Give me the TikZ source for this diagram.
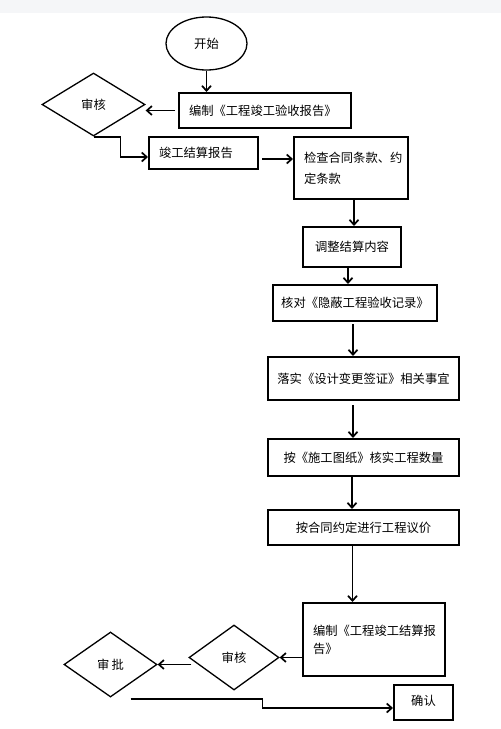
\documentclass[tikz,border=0pt]{standalone}
\usepackage{fontspec}
\setmainfont{Noto Sans CJK SC}
\usetikzlibrary{shapes.geometric,arrows.meta}
\definecolor{bandgray}{RGB}{245,246,248}
\begin{document}
\begin{tikzpicture}[x=1pt,y=-1pt,
  every node/.style={font=\fontsize{12.3}{20}\selectfont},
  box/.style={draw, rectangle, line width=2pt, inner sep=0pt},
  lbox/.style={box, align=left, inner xsep=10pt},
  ell/.style={draw, ellipse, line width=1.3pt, inner sep=0pt, minimum width=81pt, minimum height=53pt},
  dia/.style={draw, diamond, line width=1.3pt, inner sep=0pt},
  arr/.style={-{Straight Barb[length=5pt,width=9pt]}, line width=1.7pt},
  lin/.style={line width=1.7pt}]
\useasboundingbox (0,0) rectangle (501,729);
\fill[bandgray] (0,0) rectangle (501,13);

\node[ell] (start) at (206.5,43.5) {开始\hspace{12pt}};
\node[lbox, minimum height=35pt, text width=152pt] (b1) at (265,110.5) {编制《工程竣工验收报告》};
\node[dia, minimum width=103pt, minimum height=63pt] (d1) at (93.5,104.5) {审核\hspace{6pt}};
\node[lbox, minimum height=32pt, text width=89pt] (b2) at (203.5,153) {竣工结算报告};
\node[lbox, minimum height=62pt, text width=94pt, font=\fontsize{12.3}{21}\selectfont] (b3) at (351,168) {检查合同条款、约\\定条款};
\node[box, minimum width=98pt, minimum height=40pt] (b4) at (352,247) {调整结算内容};
\node[box, minimum width=164pt, minimum height=36pt] (b5) at (355,303) {核对《隐蔽工程验收记录》};
\node[box, minimum width=191pt, minimum height=43pt] (b6) at (363.5,378.5) {落实《设计变更签证》相关事宜};
\node[box, minimum width=191pt, minimum height=37pt] (b7) at (363.5,457.5) {按《施工图纸》核实工程数量};
\node[box, minimum width=191pt, minimum height=35pt] (b8) at (363.5,527.5) {按合同约定进行工程议价};
\node[lbox, minimum height=73pt, text width=122pt, font=\fontsize{12.3}{18}\selectfont] (b9) at (374,639.5) {编制《工程竣工结算报\\告》};
\node[dia, minimum width=90pt, minimum height=65pt] (d2) at (234,657.5) {审核};
\node[dia, minimum width=93pt, minimum height=65pt] (d3) at (110.5,664.5) {审\,批};
\node[box, minimum width=59pt, minimum height=35pt] (b10) at (423.5,702.5) {\raisebox{4pt}{确认}};

\draw[arr] (start.south) -- (start.south |- b1.north);
\draw[arr, shorten <=3pt] (b1.west) -- (b1.west -| d1.east);
\draw[arr] (d1.south) -- ++(27,0) |- ([yshift=-4pt]b2.west);
\draw[arr, shorten <=3pt] ([yshift=-6pt]b2.east) -- ([yshift=-6pt]b2.east -| b3.west);
\draw[arr] ([xshift=3pt]b3.south) -- ([xshift=3pt]b3.south |- b4.north);
\draw[arr] ([xshift=-4pt]b4.south) -- ([xshift=-4pt]b4.south |- b5.north);
\draw[arr, shorten <=2pt] ([xshift=-2pt]b5.south) -- ([xshift=-2pt]b5.south |- b6.north);
\draw[arr, shorten <=4pt] ([xshift=-10.5pt]b6.south) -- ([xshift=-10.5pt]b6.south |- b7.north);
\draw[arr] ([xshift=-11.5pt]b7.south) -- ([xshift=-11.5pt]b7.south |- b8.north);
\draw[arr] ([xshift=-11pt]b8.south) -- ([xshift=-11pt]b8.south |- b9.north);
\draw[arr] (b9.west |- d2.east) -- (d2.east);
\draw[arr] ([xshift=3pt]d2.west |- d3.east) -- (d3.east);
\draw[arr] ([xshift=20pt,yshift=-1pt]d3.south) -- ++(132,0) |- ([yshift=-5.5pt]b10.west);
\end{tikzpicture}
\end{document}
